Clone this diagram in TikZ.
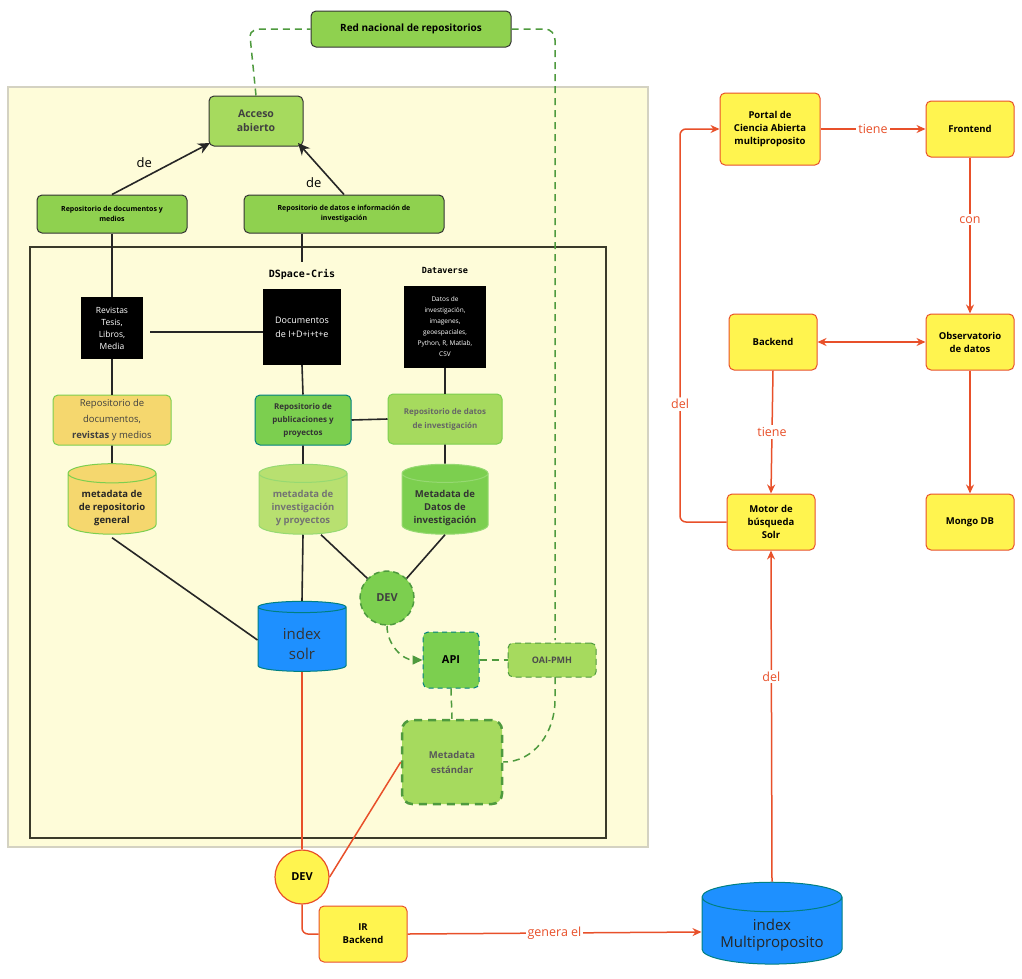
\documentclass[tikz,border=0pt]{standalone}
\usepackage{fontspec}
\setmainfont{Open Sans}
\newfontfamily\monof{DejaVu Sans Mono}
\usetikzlibrary{shapes.geometric,arrows.meta}
\definecolor{panel}{HTML}{FEFCD9}
\definecolor{panelb}{HTML}{D4D2C2}
\definecolor{olive}{HTML}{3A3A2A}
\definecolor{gbright}{HTML}{8FD14F}
\definecolor{gdark}{HTML}{2E8B3E}
\definecolor{gmid}{HTML}{7CCF4F}
\definecolor{glight}{HTML}{A6DA5E}
\definecolor{gpale}{HTML}{B8E070}
\definecolor{sand}{HTML}{F5D76E}
\definecolor{ylw}{HTML}{FFF44F}
\definecolor{orng}{HTML}{E8502A}
\definecolor{solr}{HTML}{1E90FF}
\definecolor{dashg}{HTML}{4E9A3E}
\begin{document}
\begin{tikzpicture}[x=1pt,y=-1pt,font=\bfseries\fontsize{9}{11}\selectfont]
\tikzstyle{box}=[rectangle,rounded corners=5pt,draw,line width=1pt,align=center,minimum width=#1,minimum height=34pt,inner sep=2pt]
\tikzstyle{gbox}=[box=#1,fill=gbright,draw=black!80]
\tikzstyle{blk}=[rectangle,fill=black,text=white,align=center,font=\fontsize{8.5}{12}\selectfont,inner sep=2pt]
\tikzstyle{db}=[cylinder,shape border rotate=90,aspect=0.28,draw,line width=1pt,align=center,minimum width=#1,minimum height=70pt,inner sep=1pt]
\tikzstyle{ybox}=[box=#1,fill=ylw,draw=orng,minimum height=56pt,font=\bfseries\fontsize{9.5}{13}\selectfont]
\tikzstyle{bl}=[draw=black!85,line width=1.6pt]
\tikzstyle{ol}=[draw=orng,line width=1.5pt]
\tikzstyle{oa}=[ol,-{Stealth[length=9pt,width=8pt]}]
\tikzstyle{dsh}=[draw=dashg,line width=1.5pt,dash pattern=on 7pt off 5pt]
\tikzstyle{olab}=[fill=white,text=orng,font=\fontsize{12.5}{14}\selectfont,inner sep=2pt]
\useasboundingbox (0,0) rectangle (1022,978);
% panels
\draw[fill=panel,draw=panelb,line width=2pt] (8,87) rectangle (648,847);
\draw[draw=olive,line width=1.2pt] (30,247) rectangle (606,838);
% top
\node[gbox=200pt,minimum height=36pt,font=\bfseries\fontsize{10}{11}\selectfont] (red) at (411,29) {Red nacional de repositorios};
\node[gbox=94pt,minimum height=50pt,fill=glight,font=\bfseries\fontsize{10.5}{14}\selectfont,text=black!75] (acc) at (256,121) {Acceso\\abierto};
\node[gbox=150pt,minimum height=38pt,font=\bfseries\fontsize{7}{10}\selectfont] (rdm) at (112,214) {Repositorio de documentos y\\medios};
\node[gbox=200pt,minimum height=38pt,font=\bfseries\fontsize{7}{10}\selectfont] (rdi) at (344,214) {Repositorio de datos e informaci\'on de\\investigaci\'on};
\draw[bl,-{Stealth[length=12pt,width=11pt]}] (rdm.north) -- node[pos=0.45,above left=0pt,font=\fontsize{13}{14}\selectfont] {de} (210,143);
\draw[bl,-{Stealth[length=12pt,width=11pt]}] (rdi.north) -- node[pos=0.4,below left=0pt,font=\fontsize{13}{14}\selectfont] {de} (298,143);
\draw[dsh] (acc.north) -- (250,36) to[out=90,in=180] (262,29) -- (red.west);
\draw[dsh] (red.east) -- (545,29) to[out=0,in=90] (555,40) -- (555,640);
% black boxes
\node[font=\monof\bfseries\fontsize{10}{12}\selectfont] (dsp) at (302,274) {DSpace-Cris};
\node[font=\monof\bfseries\fontsize{8.5}{10}\selectfont] (dv) at (445,270) {Dataverse};
\node[blk,minimum width=62pt,minimum height=62pt] (rev) at (112,328) {Revistas\\Tesis,\\Libros,\\Media};
\node[blk,minimum width=78pt,minimum height=76pt,font=\fontsize{9}{14}\selectfont] (doc) at (302,327) {Documentos\\de I+D+i+t+e};
\node[blk,minimum width=82pt,minimum height=82pt,font=\fontsize{6.5}{11}\selectfont] (dat) at (445,327) {Datos de\\investigaci\'on,\\imagenes,\\geoespaciales,\\Python, R, Matlab,\\CSV};
% repos
\node[box=118pt,minimum height=50pt,fill=sand,draw=gmid,font=\fontsize{9.5}{16}\selectfont,text=black!75] (ry) at (112,420) {Repositorio de\\documentos,\\\textbf{revistas} y medios};
\node[box=96pt,minimum height=50pt,fill=gmid,draw=teal,font=\bfseries\fontsize{8}{13}\selectfont,text=black!80] (rp) at (303,420) {Repositorio de\\publicaciones y\\proyectos};
\node[box=114pt,minimum height=50pt,fill=glight,draw=gmid,font=\bfseries\fontsize{8}{14}\selectfont,text=black!60] (rd) at (445,419) {Repositorio de datos\\de investigaci\'on};
% metadata
\node[db=88pt,fill=sand,draw=gmid,text=black!85,font=\bfseries\fontsize{9.5}{13}\selectfont] (mg) at (112,505) {\\metadata de\\de repositorio\\general};
\node[db=88pt,fill=gpale,draw=gmid!80,text=black!55,font=\bfseries\fontsize{9.5}{13}\selectfont] (mi) at (303,505) {\\metadata de\\investigaci\'on\\y proyectos};
\node[db=86pt,fill=gmid,draw=gmid!80,text=black!80,font=\bfseries\fontsize{9.5}{13}\selectfont] (md) at (445,505) {\\Metadata de\\Datos de\\investigaci\'on};
\node[db=88pt,fill=solr,draw=teal,text=black!80,font=\fontsize{15}{20}\selectfont] (is) at (302,640) {\\index\\solr};
\node[circle,minimum size=54pt,fill=gmid,draw=dashg,line width=1.5pt,dash pattern=on 6pt off 4pt,font=\bfseries\fontsize{11}{13}\selectfont,text=black!75] (dg) at (387,598) {DEV};
\node[box=56pt,minimum height=56pt,fill=gmid,draw=teal,dash pattern=on 5pt off 4pt,font=\bfseries\fontsize{11}{13}\selectfont] (api) at (451,660) {API};
\node[box=88pt,minimum height=34pt,fill=glight,draw=dashg,dash pattern=on 6pt off 4pt,font=\bfseries\fontsize{9}{11}\selectfont,text=black!70] (oai) at (552,660) {OAI-PMH};
\node[box=100pt,minimum height=84pt,rounded corners=10pt,fill=glight,draw=dashg,line width=2.5pt,dash pattern=on 8pt off 6pt,font=\bfseries\fontsize{9.5}{15}\selectfont,text=black!65] (me) at (452,762) {Metadata\\est\'andar};
% left tree lines
\draw[bl] (rdm.south) -- (rev.north);
\draw[bl] (150,332) -- (doc.west |- 0,332);
\draw[bl] (rdi.south -| doc) -- (302,262);
\draw[bl] (rev.south) -- (ry.north);
\draw[bl] (ry.south) -- (mg.north);
\draw[bl] (mg.south) ++(0,3) -- (is.west);
\draw[bl] (doc.south) -- (rp.north);
\draw[bl] (rp.east) -- (rd.west);
\draw[bl] (rp.south) -- (mi.north);
\draw[bl] (dat.south) -- (rd.north);
\draw[bl] (rd.south) -- (md.north);
\draw[bl] (mi.south) -- (is.north);
\draw[bl] (mi.south) ++(18,0) -- (dg.north west);
\draw[bl] (md.south) -- (dg.north east);
\draw[dsh,-{Triangle[length=10pt,width=9pt]}] (dg.south) to[out=-90,in=180] (api.west);
\draw[dsh] (api.east) -- (oai.west);
\draw[dsh] (api.south) -- (me.north);
\draw[dsh] (555,677) -- (555,700) to[out=-90,in=0] (me.east);
% right block
\node[ybox=100pt,minimum height=72pt] (por) at (770,129) {Portal de\\Ciencia Abierta\\multiproposito};
\node[ybox=88pt] (fro) at (970,129) {Frontend};
\node[ybox=88pt] (bac) at (773,342) {Backend};
\node[ybox=88pt] (obs) at (970,342) {Observatorio\\de datos};
\node[ybox=88pt] (mot) at (771,522) {Motor de\\b\'usqueda\\Solr};
\node[ybox=88pt] (mon) at (970,522) {Mongo DB};
\node[circle,minimum size=54pt,fill=ylw,draw=orng,line width=1.2pt,font=\bfseries\fontsize{11}{13}\selectfont] (dy) at (302,877) {DEV};
\node[ybox=88pt] (irb) at (363,934) {IR\\Backend};
\node[db=140pt,fill=solr,draw=teal,font=\fontsize{15}{17}\selectfont,text=black!85] (im) at (772,932) {\\index\\Multiproposito};
\draw[ol] (is.south) -- (dy.north);
\draw[ol] (me.west) -- (dy.east);
\draw[ol,rounded corners=6pt] (dy.south) -- (302,934) -- (irb.west);
\draw[oa] (irb.east) -- node[olab] {genera el} (im.west);
\draw[oa] (im.north) -- node[olab,pos=0.62] {del} (mot.south);
\draw[oa,rounded corners=6pt] (mot.west) -- (680,522) -- node[olab,pos=0.3] {del} (680,129) -- (por.west);
\draw[oa] (por.east) -- node[olab] {tiene} (fro.west);
\draw[oa] (fro.south) -- node[olab,pos=0.4] {con} (obs.north);
\draw[ol,{Stealth[length=9pt,width=8pt]}-{Stealth[length=9pt,width=8pt]}] (bac.east) -- (obs.west);
\draw[oa] (bac.south) -- node[olab] {tiene} (mot.north);
\draw[oa] (obs.south) -- (mon.north);
\end{tikzpicture}
\end{document}
